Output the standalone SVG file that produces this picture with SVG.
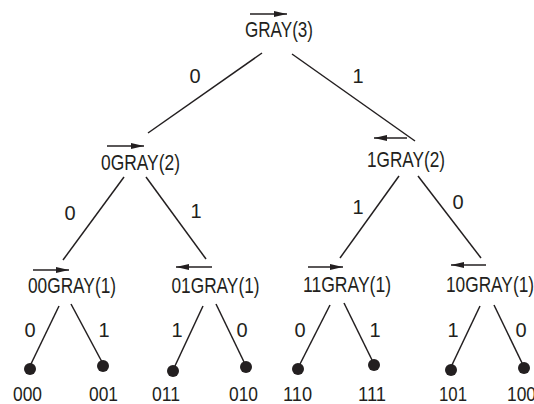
<svg xmlns="http://www.w3.org/2000/svg" width="534" height="404" viewBox="0 0 534 404">
<style>
.t{font-family:"Liberation Sans",Arial,sans-serif;font-size:22px;fill:#231f20}
.b{font-family:"Liberation Sans",Arial,sans-serif;font-size:20px;fill:#231f20}
.l{font-family:"Liberation Sans",Arial,sans-serif;font-size:20px;fill:#231f20;text-anchor:middle}
.e{stroke:#231f20;stroke-width:1.5;fill:none}
.a{stroke:#231f20;stroke-width:1.6;fill:none;marker-end:url(#ah)}
.d{fill:#231f20}
</style>
<defs>
<marker id="ah" markerUnits="userSpaceOnUse" markerWidth="14" markerHeight="8" refX="13" refY="3" orient="auto">
<path d="M0,0 L13,3 L0,6 z" fill="#231f20"/>
</marker>
</defs>
<g id="connectors">
<line class="e" x1="262" y1="53" x2="148" y2="133"/>
<line class="e" x1="292" y1="54" x2="415" y2="141"/>
<line class="e" x1="124" y1="177" x2="63" y2="260"/>
<line class="e" x1="146" y1="177" x2="206" y2="259"/>
<line class="e" x1="399" y1="176" x2="340" y2="258"/>
<line class="e" x1="418" y1="176" x2="481" y2="258"/>
<line class="e" x1="59" y1="306" x2="30" y2="366"/>
<line class="e" x1="71" y1="304" x2="102" y2="362"/>
<line class="e" x1="203" y1="306" x2="174" y2="368"/>
<line class="e" x1="216" y1="304" x2="245" y2="364"/>
<line class="e" x1="330" y1="305" x2="299" y2="366"/>
<line class="e" x1="344" y1="303" x2="373" y2="362"/>
<line class="e" x1="480" y1="306" x2="451" y2="367"/>
<line class="e" x1="494" y1="305" x2="523" y2="365"/>
<text class="l" x="195" y="83">0</text>
<text class="l" x="358" y="83">1</text>
<text class="l" x="70" y="220">0</text>
<text class="l" x="196" y="218">1</text>
<text class="l" x="358" y="214">1</text>
<text class="l" x="458" y="209">0</text>
<text class="l" x="30" y="337">0</text>
<text class="l" x="104" y="337">1</text>
<text class="l" x="177" y="337">1</text>
<text class="l" x="242" y="337">0</text>
<text class="l" x="300" y="337">0</text>
<text class="l" x="375" y="337">1</text>
<text class="l" x="453" y="337">1</text>
<text class="l" x="521" y="337">0</text>
</g>
<g id="n-gray3">
<line class="a" x1="250" y1="14" x2="287" y2="14"/>
<text class="t" x="245" y="37" textLength="68" lengthAdjust="spacingAndGlyphs">GRAY(3)</text>
</g>
<g id="n-0gray2">
<line class="a" x1="107" y1="146" x2="144" y2="146"/>
<text class="t" x="101" y="170" textLength="79" lengthAdjust="spacingAndGlyphs">0GRAY(2)</text>
</g>
<g id="n-1gray2">
<line class="a" x1="407" y1="138" x2="374" y2="138"/>
<text class="t" x="367" y="167" textLength="78" lengthAdjust="spacingAndGlyphs">1GRAY(2)</text>
</g>
<g id="n-00gray1">
<line class="a" x1="33" y1="270" x2="69" y2="270"/>
<text class="t" x="28" y="293" textLength="88" lengthAdjust="spacingAndGlyphs">00GRAY(1)</text>
</g>
<g id="n-01gray1">
<line class="a" x1="212" y1="267" x2="176" y2="267"/>
<text class="t" x="171.5" y="293" textLength="88" lengthAdjust="spacingAndGlyphs">01GRAY(1)</text>
</g>
<g id="n-11gray1">
<line class="a" x1="308" y1="267" x2="343" y2="267"/>
<text class="t" x="303" y="292" textLength="88" lengthAdjust="spacingAndGlyphs">11GRAY(1)</text>
</g>
<g id="n-10gray1">
<line class="a" x1="486" y1="265" x2="451" y2="265"/>
<text class="t" x="446" y="292" textLength="88" lengthAdjust="spacingAndGlyphs">10GRAY(1)</text>
</g>
<g id="leaf-000"><circle class="d" cx="30" cy="369" r="6"/><text class="b" x="13" y="401" textLength="29" lengthAdjust="spacingAndGlyphs">000</text></g>
<g id="leaf-001"><circle class="d" cx="103" cy="366" r="6"/><text class="b" x="89" y="401" textLength="29" lengthAdjust="spacingAndGlyphs">001</text></g>
<g id="leaf-011"><circle class="d" cx="173" cy="371" r="6"/><text class="b" x="152" y="401" textLength="28" lengthAdjust="spacingAndGlyphs">011</text></g>
<g id="leaf-010"><circle class="d" cx="246" cy="367" r="6"/><text class="b" x="229" y="401" textLength="29" lengthAdjust="spacingAndGlyphs">010</text></g>
<g id="leaf-110"><circle class="d" cx="298" cy="369" r="6"/><text class="b" x="283" y="401" textLength="29" lengthAdjust="spacingAndGlyphs">110</text></g>
<g id="leaf-111"><circle class="d" cx="374" cy="365" r="6"/><text class="b" x="358" y="401" textLength="28" lengthAdjust="spacingAndGlyphs">111</text></g>
<g id="leaf-101"><circle class="d" cx="451" cy="370" r="6"/><text class="b" x="439" y="401" textLength="28" lengthAdjust="spacingAndGlyphs">101</text></g>
<g id="leaf-100"><circle class="d" cx="524" cy="368" r="6"/><text class="b" x="507" y="401" textLength="29" lengthAdjust="spacingAndGlyphs">100</text></g>
</svg>
